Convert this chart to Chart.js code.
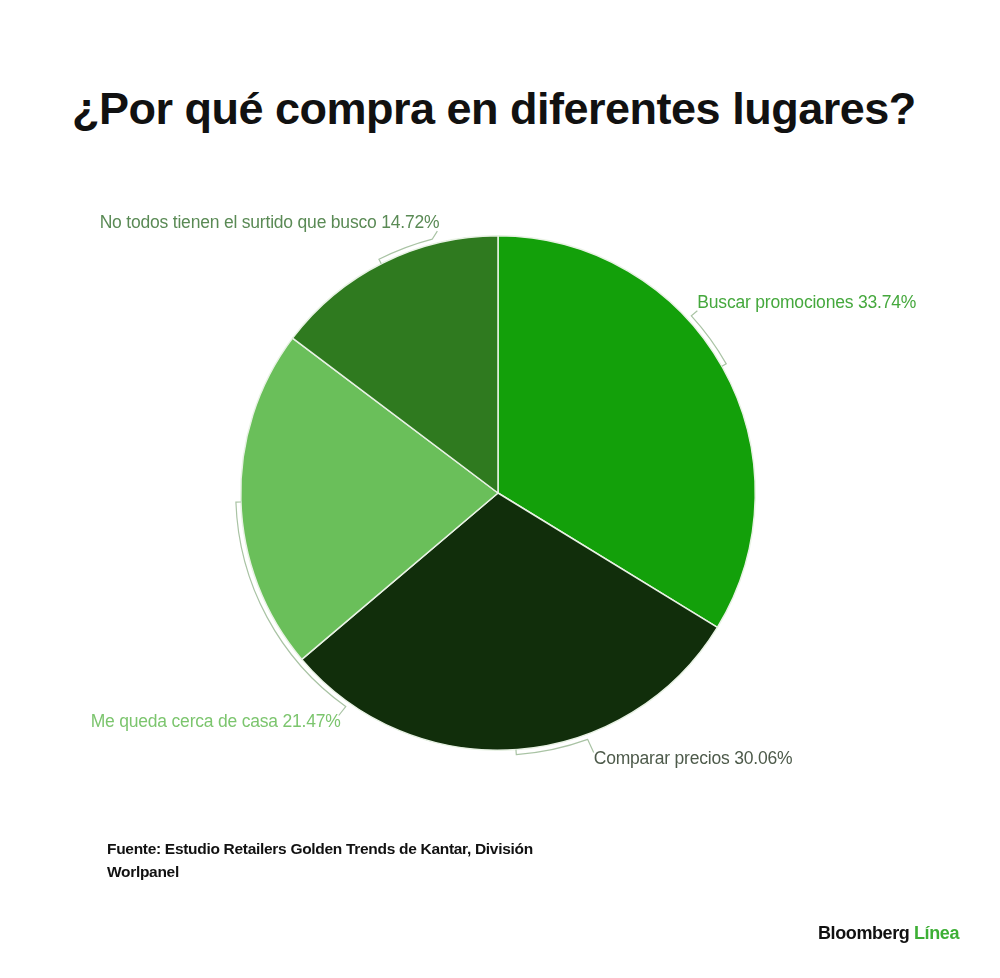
<!DOCTYPE html>
<html lang="es">
<head>
<meta charset="utf-8">
<title>¿Por qué compra en diferentes lugares?</title>
<script src="https://cdn.jsdelivr.net/npm/chart.js@4/dist/chart.umd.min.js"></script>
<style>
  html, body { margin: 0; padding: 0; background: #fff; }
  body { width: 1000px; height: 978px; position: relative; overflow: hidden; font-family: "Liberation Sans", Arial, sans-serif; }
  #title { position: absolute; left: 72px; top: 86px; margin: 0; font-size: 45px; font-weight: bold; letter-spacing: -0.5px; color: #111; line-height: 1; white-space: nowrap; }
  #chart-wrap { position: absolute; left: 0; top: 0; width: 1000px; height: 978px; }
  #source { position: absolute; left: 107px; top: 837px; font-size: 15.5px; font-weight: bold; letter-spacing: -0.3px; line-height: 23px; color: #111; }
  #brand { position: absolute; left: 818px; top: 923px; font-size: 18px; font-weight: bold; letter-spacing: -0.4px; color: #111; }
  #brand span { color: #3daf35; }
</style>
</head>
<body>
<h1 id="title">¿Por qué compra en diferentes lugares?</h1>
<div id="chart-wrap"><canvas id="chart-pie"></canvas></div>
<div id="source">Fuente: Estudio Retailers Golden Trends de Kantar, División<br>Worlpanel</div>
<div id="brand">Bloomberg <span>Línea</span></div>

<script>
const categorias = [
    "Buscar promociones",
    "Comparar precios",
    "Me queda cerca de casa",
    "No todos tienen el surtido que busco"
];

const porcentajes = [33.74, 30.06, 21.47, 14.72];

const etiquetas = [
    "Buscar promociones 33.74%",
    "Comparar precios 30.06%",
    "Me queda cerca de casa 21.47%",
    "No todos tienen el surtido que busco 14.72%"
];

const colores = ['#13a00a', '#112e0b', '#6abf5a', '#2f7a1f'];
const coloresTexto = ['#45a83d', '#4d5a4a', '#7cc56e', '#5a8a55'];

// llaves (grados desde arriba, sentido horario): desde, hasta (extremo con gancho), desplazamiento del texto
const llaves = [
    { desde: 60.5, hasta: 47.5, dx: 6, dy: -13, align: 'left' },
    { desde: 176, hasta: 160, dx: 6, dy: 20, align: 'left' },
    { desde: 268, hasta: 215.5, dx: -7, dy: 16, align: 'right' },
    { desde: 333, hasta: 345.5, dx: 5, dy: -16, align: 'right' }
];

const etiquetasPlugin = {
    id: 'etiquetas',
    afterDatasetsDraw(chart) {
        const ctx = chart.ctx;
        const arcs = chart.getDatasetMeta(0).data;
        arcs.forEach((arc, i) => {
            const ll = llaves[i];
            const r = arc.outerRadius + 5;
            const rad = g => (g - 90) * Math.PI / 180;
            const pt = (g, rr) => [arc.x + rr * Math.cos(rad(g)), arc.y + rr * Math.sin(rad(g))];
            ctx.save();
            ctx.strokeStyle = '#a9c3a4';
            ctx.lineWidth = 1.2;
            ctx.beginPath();
            const p0 = pt(ll.desde, r - 5);
            ctx.moveTo(p0[0], p0[1]);
            const p1 = pt(ll.desde, r);
            ctx.lineTo(p1[0], p1[1]);
            ctx.arc(arc.x, arc.y, r, rad(ll.desde), rad(ll.hasta), ll.hasta < ll.desde);
            const p2 = pt(ll.hasta, r);
            const tx = p2[0] + ll.dx, ty = p2[1] + ll.dy;
            ctx.lineTo(tx, ty + (ll.dy < 0 ? 8 : -7));
            ctx.stroke();

            ctx.fillStyle = coloresTexto[i];
            ctx.font = '17.5px "Liberation Sans", Arial, sans-serif';
            ctx.letterSpacing = '-0.2px';
            ctx.textAlign = ll.align;
            ctx.textBaseline = 'middle';
            ctx.fillText(etiquetas[i], ll.align === 'left' ? tx : tx + 2, ty);
            ctx.restore();
        });
    }
};

const ctx = document.getElementById('chart-pie');
new Chart(ctx, {
    type: 'pie',
    data: {
        labels: categorias,
        datasets: [{
            data: porcentajes,
            backgroundColor: colores,
            borderColor: '#e8f2e4',
            borderWidth: 1.5,
            hoverOffset: 0,
            offset: 0
        }]
    },
    options: {
        responsive: true,
        maintainAspectRatio: false,
        animation: false,
        layout: {
            padding: { left: 240, right: 244, top: 235, bottom: 227 }
        },
        plugins: {
            legend: { display: false },
            tooltip: { enabled: false }
        }
    },
    plugins: [etiquetasPlugin]
});
</script>
</body>
</html>
